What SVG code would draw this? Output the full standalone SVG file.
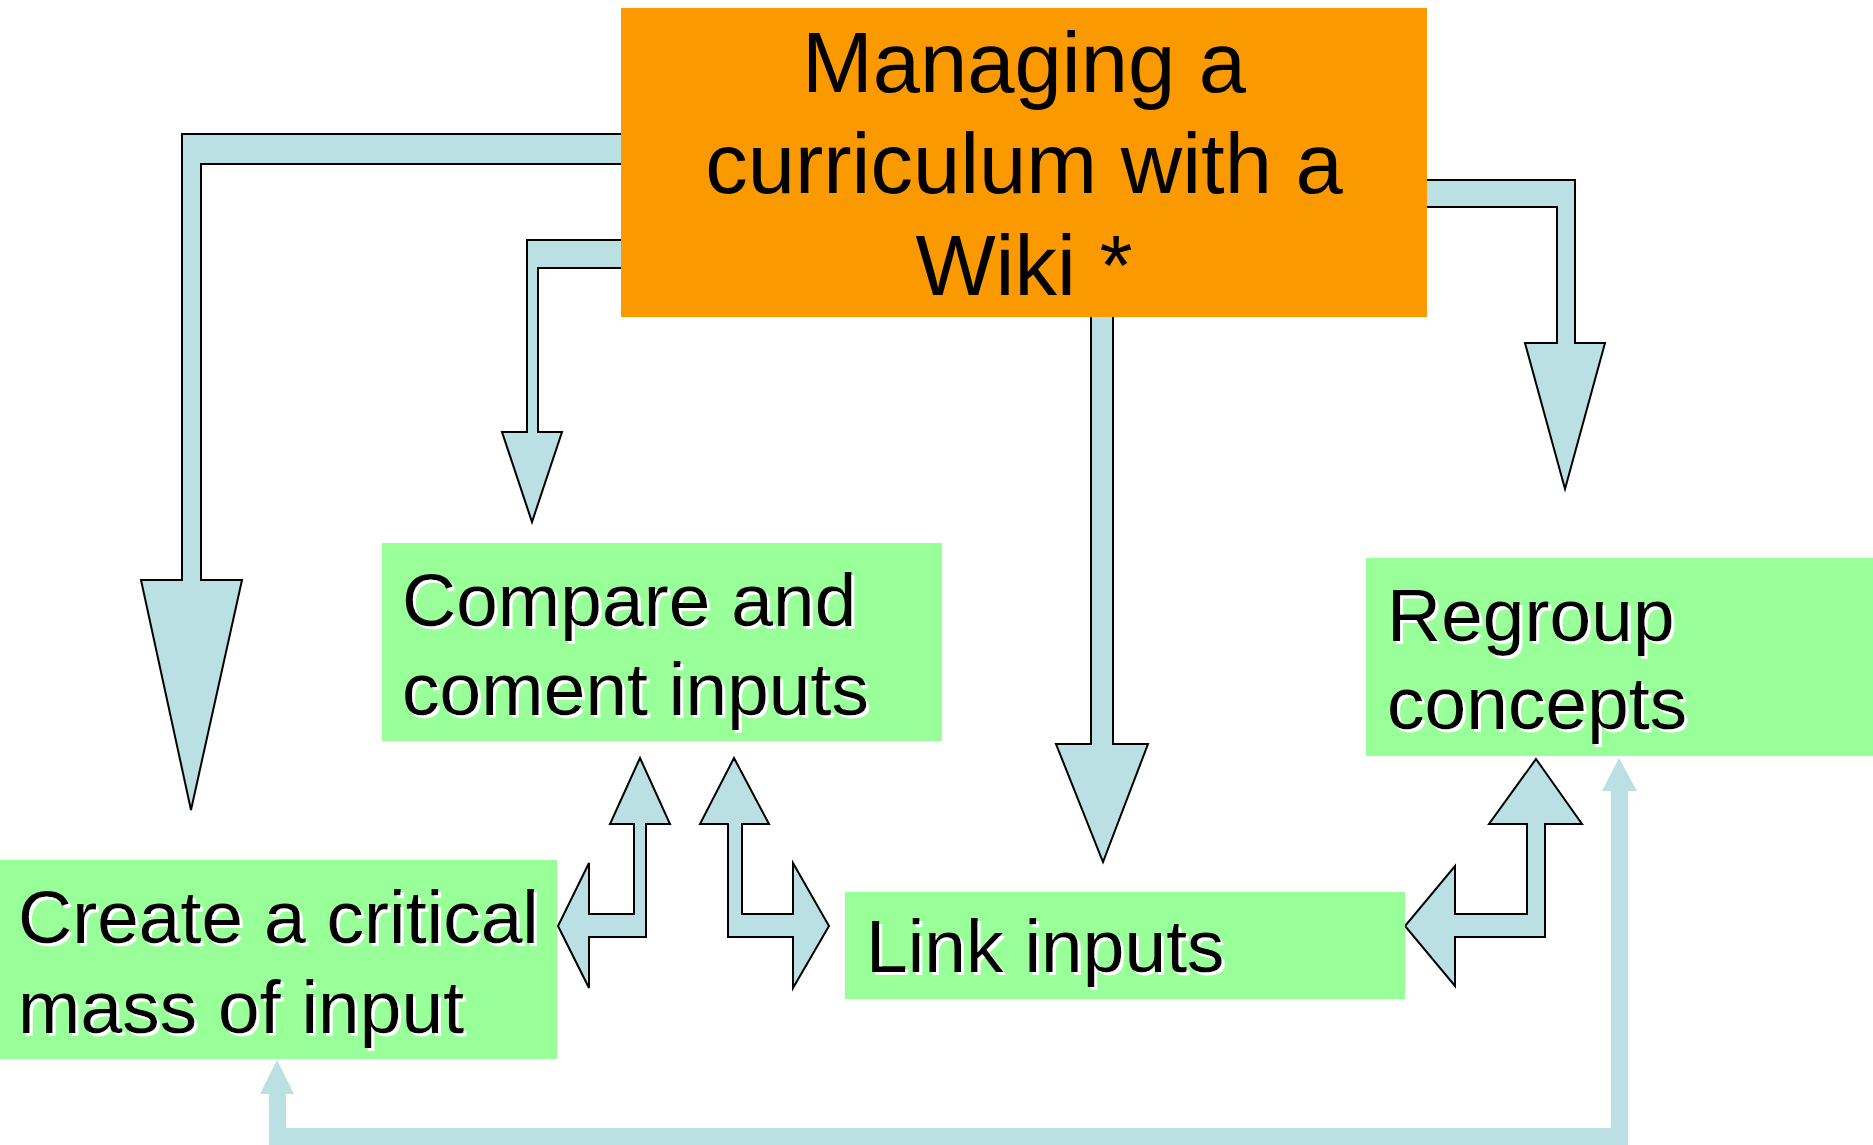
<svg xmlns="http://www.w3.org/2000/svg" width="1873" height="1145" viewBox="0 0 1873 1145">
  <defs>
    <style>
      .arrow { fill: #BAE0E3; stroke: #000; stroke-width: 2; stroke-linejoin: miter; }
      .flow { fill: #BAE0E3; stroke: none; }
      .main { fill: #FB9A00; }
      .step { fill: #99FF99; }
      .title { font-family: "Liberation Sans", Arial, sans-serif; font-size: 85px; fill: #000; text-anchor: middle; }
      .label { font-family: "Liberation Sans", Arial, sans-serif; font-size: 75px; fill: #000; filter: url(#glow); }
    </style>
    <filter id="glow" x="-5%" y="-20%" width="110%" height="140%">
      <feDropShadow dx="3" dy="3" stdDeviation="0" flood-color="#ffffff" flood-opacity="1"/>
    </filter>
  </defs>

  <g id="connectors">
    <!-- bent arrow: main topic to "Create a critical mass of input" -->
    <polygon class="arrow" points="700,134 182,134 182,580 141,580 191,810 242,580 201,580 201,164 700,164"/>
    <!-- bent arrow: main topic to "Compare and coment inputs" -->
    <polygon class="arrow" points="700,240 527,240 527,432 502,432 532,522 562,432 538,432 538,268 700,268"/>
    <!-- straight arrow: main topic to "Link inputs" -->
    <polygon class="arrow" points="1091,250 1091,744 1056,744 1103,862 1148,744 1113,744 1113,250"/>
    <!-- bent arrow: main topic to "Regroup concepts" -->
    <polygon class="arrow" points="1380,180 1575,180 1575,343 1605,343 1565,489 1525,343 1557,343 1557,207 1380,207"/>
    <!-- two-way: Compare <-> Create -->
    <polygon class="arrow" points="640,758 670,824 646,824 646,937 589,937 589,988 558,926 589,863 589,914 634,914 634,824 610,824"/>
    <!-- two-way: Compare <-> Link -->
    <polygon class="arrow" points="734,758 769,824 742,824 742,914 793,914 793,863 829,926 793,988 793,937 728,937 728,824 700,824"/>
    <!-- two-way: Regroup <-> Link -->
    <polygon class="arrow" points="1536,759 1582,824 1545,824 1545,937 1455,937 1455,986 1405,926 1455,866 1455,914 1527,914 1527,824 1489,824"/>
    <!-- feedback loop along the bottom: Regroup and Create -->
    <polygon class="flow" points="277,1060 294,1094 286,1094 286,1128 1611,1128 1611,791 1602,791 1619,758 1637,791 1628,791 1628,1145 269,1145 269,1094 260,1094"/>
  </g>

  <g id="main-topic">
    <rect class="main" x="621" y="8" width="806" height="309"/>
    <text class="title" x="1024" y="92">Managing a</text>
    <text class="title" x="1024" y="193">curriculum with a</text>
    <text class="title" x="1024" y="295">Wiki *</text>
  </g>

  <g id="compare">
    <rect class="step" x="382" y="543" width="560" height="198"/>
    <text class="label" x="402" y="626">Compare and</text>
    <text class="label" x="402" y="715">coment inputs</text>
  </g>

  <g id="create">
    <rect class="step" x="0" y="860" width="557" height="199"/>
    <text class="label" x="18" y="943">Create a critical</text>
    <text class="label" x="18" y="1033">mass of input</text>
  </g>

  <g id="link">
    <rect class="step" x="845" y="892" width="560" height="107"/>
    <text class="label" x="866" y="972">Link inputs</text>
  </g>

  <g id="regroup">
    <rect class="step" x="1366" y="558" width="507" height="198"/>
    <text class="label" x="1387" y="641">Regroup</text>
    <text class="label" x="1387" y="729">concepts</text>
  </g>
</svg>
